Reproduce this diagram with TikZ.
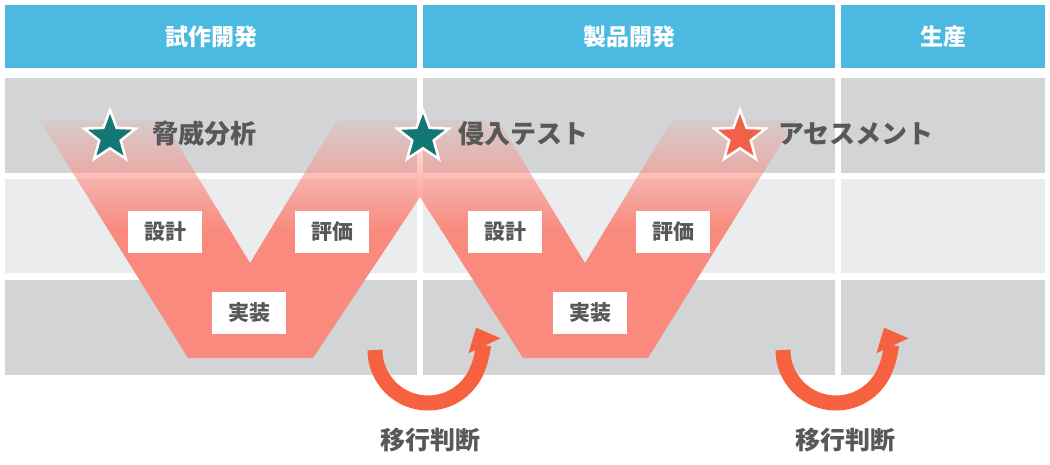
\documentclass[tikz,border=0pt]{standalone}
\usepackage{fontspec}
\setmainfont{Noto Sans CJK JP}
\usetikzlibrary{shapes.geometric,fadings,arrows.meta}
\definecolor{hdr}{HTML}{4CB9E1}
\definecolor{rowd}{HTML}{D3D4D6}
\definecolor{rowl}{HTML}{EBECEE}
\definecolor{vcol}{HTML}{FA8A7E}
\definecolor{txt}{HTML}{585858}
\definecolor{teal}{HTML}{137874}
\definecolor{orng}{HTML}{F3604A}
\definecolor{arr}{HTML}{F6623F}
\tikzfading[name=vfade, top color=transparent!90, bottom color=transparent!0]
\tikzset{
  hd/.style={fill=hdr,draw=none},
  lbl/.style={fill=white,text=txt,font=\bfseries\fontsize{21}{21}\selectfont,minimum width=74pt,minimum height=42pt,inner sep=0pt},
  big/.style={text=txt,font=\bfseries\fontsize{26}{26}\selectfont,anchor=west,inner sep=0pt},
  htxt/.style={text=white,font=\bfseries\fontsize{23}{23}\selectfont},
  st/.style={star,star points=5,star point ratio=2.4,minimum size=54pt,draw=white,line width=2.5pt,inner sep=0pt},
  uarr/.style={draw=arr,line width=15pt,-{Triangle[width=34pt,length=20pt]}}
}
\begin{document}
\begin{tikzpicture}[x=1pt,y=-1pt]
\useasboundingbox (0,0) rectangle (1050,464);
% header
\fill[hd] (5,5) rectangle (417,68);
\fill[hd] (423,5) rectangle (835,68);
\fill[hd] (841,5) rectangle (1045,68);
\node[htxt] (h1) at (211,37) {試作開発};
\node[htxt] (h2) at (629,37) {製品開発};
\node[htxt] (h3) at (943,37) {生産};
% rows
\foreach \xa/\xb in {5/417,423/835,841/1045}{
  \fill[rowd] (\xa,78) rectangle (\xb,173);
  \fill[rowl] (\xa,179) rectangle (\xb,273);
  \fill[rowd] (\xa,280) rectangle (\xb,375);
}
% W shape
\begin{scope}
\clip (40,120) -- (188,358) -- (313,358) -- (420,197) -- (523,358) -- (648,358) -- (796,120) -- (672,120) -- (585,263) -- (498,120) -- (337,120) -- (250,263) -- (163,120) -- cycle;
\fill[vcol] (0,229) rectangle (1050,360);
\fill[vcol,path fading=vfade] (0,118) rectangle (1050,230);
\end{scope}
% labels
\node[lbl] (d1) at (165,232) {設計};
\node[lbl] (e1) at (332,232) {評価};
\node[lbl] (i1) at (249,313) {実装};
\node[lbl] (d2) at (505,232) {設計};
\node[lbl] (e2) at (673,232) {評価};
\node[lbl] (i2) at (590,313) {実装};
% stars
\node[st,fill=teal] (s1) at (110,137) {};
\node[st,fill=teal] (s2) at (423,137) {};
\node[st,fill=orng] (s3) at (740,137) {};
\node[big] (t1) at (152,134) {脅威分析};
\node[big] (t2) at (458,134) {侵入テスト};
\node[big] (t3) at (778,134) {アセスメント};
% arrows
\draw[uarr] (375,350) arc[start angle=180,end angle=-25,radius=53];
\draw[uarr] (783,350) arc[start angle=180,end angle=-25,radius=53];
\node[text=txt,font=\bfseries\fontsize{25}{25}\selectfont] (m1) at (430,440) {移行判断};
\node[text=txt,font=\bfseries\fontsize{25}{25}\selectfont] (m2) at (845,440) {移行判断};
\end{tikzpicture}
\end{document}
